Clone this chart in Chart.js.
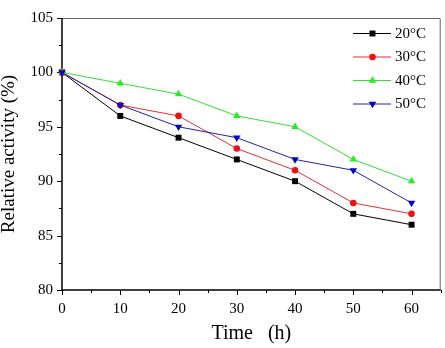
<!DOCTYPE html>
<html>
<head>
<meta charset="utf-8">
<script src="https://cdn.jsdelivr.net/npm/chart.js@4/dist/chart.umd.min.js"></script>
<style>
  html, body { margin: 0; padding: 0; background: #fff; }
  #wrap { width: 445px; height: 348px; }
</style>
</head>
<body>
<div id="wrap"><canvas id="chart"></canvas></div>
<script>
const hours = [0, 10, 20, 30, 40, 50, 60];
const labels = ["20°C", "30°C", "40°C", "50°C"];
const act20 = [100, 96, 94, 92, 90, 87, 86];
const act30 = [100, 97, 96, 93, 91, 88, 87];
const act40 = [100, 99, 98, 96, 95, 92, 90];
const act50 = [100, 97, 95, 94, 92, 91, 88];
const yTicks = [80, 85, 90, 95, 100, 105];
const xTicks = [0, 10, 20, 30, 40, 50, 60];

const FONT = "'Liberation Serif', 'Times New Roman', serif";

const styles = [
  { line: "#000000", fill: "#000000", shape: "rect", radius: 4.2, rot: 0 },
  { line: "#e03030", fill: "#ee1111", shape: "circle", radius: 3.3, rot: 0 },
  { line: "#33dd33", fill: "#22ee22", shape: "triangle", radius: 4.3, rot: 0 },
  { line: "#2222aa", fill: "#0000cc", shape: "triangle", radius: 4.3, rot: 180 },
];

function toPoints(values) {
  return hours.map((h, i) => ({ x: h, y: values[i] }));
}

const series = [act20, act30, act40, act50];

const datasets = series.map((vals, i) => ({
  label: labels[i],
  data: toPoints(vals),
  showLine: true,
  borderColor: styles[i].line,
  borderWidth: 1,
  pointStyle: styles[i].shape,
  pointRotation: styles[i].rot,
  pointRadius: styles[i].radius,
  pointBackgroundColor: styles[i].fill,
  pointBorderColor: styles[i].fill,
  pointBorderWidth: 0,
  tension: 0,
  clip: false,
  order: 3 - i, // 50°C on top at t = 0
}));

function drawMarker(ctx, st, x, y) {
  ctx.fillStyle = st.fill;
  ctx.beginPath();
  const r = st.radius;
  if (st.shape === "rect") {
    const s = r * Math.SQRT1_2;
    ctx.rect(x - s, y - s, 2 * s, 2 * s);
  } else if (st.shape === "circle") {
    ctx.arc(x, y, r, 0, Math.PI * 2);
  } else {
    const dir = st.rot ? -1 : 1;
    ctx.moveTo(x, y - dir * r);
    ctx.lineTo(x - r * 0.866, y + dir * r * 0.5);
    ctx.lineTo(x + r * 0.866, y + dir * r * 0.5);
    ctx.closePath();
  }
  ctx.fill();
}

// frame, outward ticks (major + minor)
const framePlugin = {
  id: "frame",
  beforeDatasetsDraw(chart) {
    const { ctx, chartArea: a, scales: { x, y } } = chart;
    ctx.save();
    ctx.strokeStyle = "#666";
    ctx.lineWidth = 1;
    ctx.beginPath();
    ctx.moveTo(a.left, a.top + 0.5);
    ctx.lineTo(a.right - 0.5, a.top + 0.5);
    ctx.lineTo(a.right - 0.5, a.bottom);
    ctx.stroke();

    ctx.strokeStyle = "#000";
    ctx.lineWidth = 1.5;
    ctx.beginPath();
    ctx.moveTo(a.left, a.top);
    ctx.lineTo(a.left, a.bottom);
    ctx.lineTo(a.right, a.bottom);
    ctx.stroke();

    ctx.lineWidth = 1;
    ctx.beginPath();
    for (let v = x.min; v <= x.max; v += 5) {
      const px = Math.round(x.getPixelForValue(v)) + 0.5;
      const len = v % 10 === 0 ? 5 : 3;
      ctx.moveTo(px, a.bottom);
      ctx.lineTo(px, a.bottom + len);
    }
    for (let v = y.min; v <= y.max; v += 2.5) {
      const py = Math.round(y.getPixelForValue(v)) + 0.5;
      const len = v % 5 === 0 ? 5 : 3;
      ctx.moveTo(a.left, py);
      ctx.lineTo(a.left - len, py);
    }
    ctx.stroke();
    ctx.restore();
  },
};

// legend: line - marker - line, label
const legendPlugin = {
  id: "lineLegend",
  afterDraw(chart) {
    const { ctx } = chart;
    ctx.save();
    ctx.font = "15px " + FONT;
    ctx.textBaseline = "middle";
    labels.forEach((txt, i) => {
      const st = styles[i];
      const yy = 33 + i * 23.5;
      ctx.strokeStyle = st.line;
      ctx.lineWidth = 1;
      ctx.beginPath();
      ctx.moveTo(353, yy + 0.5);
      ctx.lineTo(391, yy + 0.5);
      ctx.stroke();
      drawMarker(ctx, st, 372.5, yy + 0.5);
      ctx.fillStyle = "#000";
      ctx.fillText(txt, 395, yy + 1);
    });
    ctx.restore();
  },
};

new Chart(document.getElementById("chart"), {
  type: "scatter",
  data: { datasets },
  options: {
    responsive: true,
    maintainAspectRatio: false,
    animation: false,
    layout: { padding: { left: 0, right: 4, top: 9, bottom: 0 } },
    plugins: {
      legend: { display: false },
      tooltip: { enabled: false },
    },
    scales: {
      x: {
        type: "linear",
        min: 0,
        max: 65,
        afterFit: (s) => { s.height = 58; },
        afterBuildTicks: (s) => { s.ticks = xTicks.map((v) => ({ value: v })); },
        grid: { display: false, drawTicks: false },
        border: { display: false },
        ticks: {
          padding: 10,
          color: "#000",
          font: { family: FONT, size: 15 },
        },
        title: {
          display: true,
          text: "Time   (h)",
          color: "#000",
          font: { family: FONT, size: 20, lineHeight: 1.2 },
          padding: { top: 0, bottom: 2 },
        },
      },
      y: {
        min: 80,
        max: 105,
        afterFit: (s) => { s.width = 62; },
        afterBuildTicks: (s) => { s.ticks = yTicks.map((v) => ({ value: v })); },
        grid: { display: false, drawTicks: false },
        border: { display: false },
        ticks: {
          padding: 9,
          color: "#000",
          font: { family: FONT, size: 15 },
        },
        title: {
          display: true,
          text: "Relative activity (%)",
          color: "#000",
          font: { family: FONT, size: 19, lineHeight: 1 },
          padding: { top: 0, bottom: 0 },
        },
      },
    },
  },
  plugins: [framePlugin, legendPlugin],
});
</script>
</body>
</html>
